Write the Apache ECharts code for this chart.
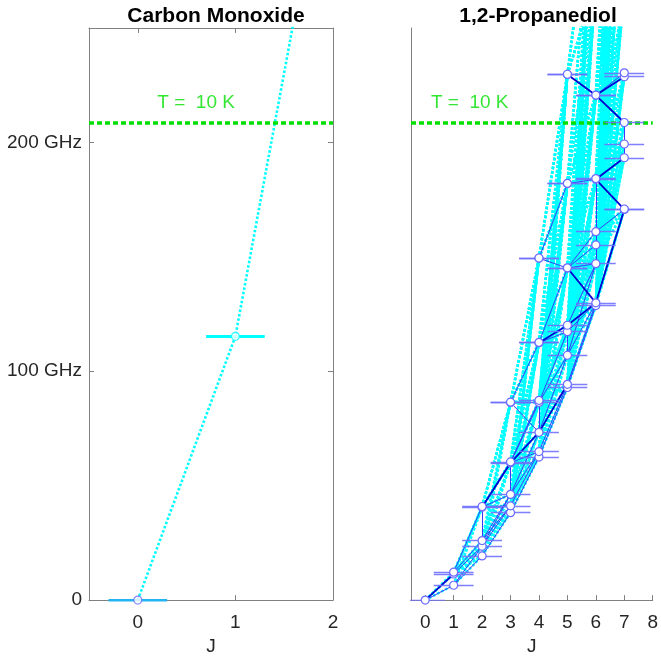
<!DOCTYPE html>
<html>
<head>
<meta charset="utf-8">
<script src="https://cdn.jsdelivr.net/npm/echarts@6/dist/echarts.min.js"></script>
<style>
  html, body { margin: 0; padding: 0; background: #fff; }
  #chart { width: 661px; height: 661px; }
</style>
</head>
<body>
<div id="chart"></div>
<script>
// Carbon monoxide: rotational levels (J, energy in GHz)
const coJ = [0, 1];
const coE = [0, 115.27];
// the ladder runs on to J=2, above the top of the axis
const coLadderJ = [0, 1, 2];
const coLadderE = [0, 115.27, 345.8];

// 1,2-propanediol levels
const pdJ = [0,
  1, 1, 1,
  2, 2, 2, 2, 2,
  3, 3, 3, 3, 3, 3, 3,
  4, 4, 4, 4, 4, 4, 4, 4, 4,
  5, 5, 5, 5, 5, 5, 5, 5, 5, 5, 5,
  6, 6, 6, 6, 6, 6, 6, 6, 6,
  7, 7, 7, 7, 7, 7, 7];
const pdE = [0,
  6.5, 11.4, 12.2,
  19.3, 23.5, 26.0, 40.6, 40.9,
  38.2, 41.2, 46.2, 60.0, 60.4, 86.4, 86.5,
  62.5, 64.9, 73.3, 86.4, 87.3, 112.5, 112.6, 149.4, 149.5,
  92.9, 94.3, 107.0, 117.3, 120.1, 145.1, 145.2, 182.0, 182.1, 229.7, 229.8,
  128.7, 129.9, 147.0, 155.2, 161.0, 183.9, 184.2, 220.6, 220.7,
  170.7, 170.9, 193.3, 199.3, 208.7, 228.7, 230.4];
// levels above 250 GHz that the dotted lines still run to (estimated)
const pdHighJ = [6, 6, 6, 6, 7, 7, 7, 7, 7, 7, 7, 7];
const pdHighE = [269.0, 269.5, 328.0, 328.5, 266.0, 266.5, 315.0, 315.5, 373.0, 373.5, 443.0, 443.5];
// solid blue transitions, index pairs into pdJ / pdE
const pdStrong = [
  [0, 1], [1, 4], [1, 5], [2, 5], [3, 6], [3, 8], [6, 7],
  [4, 9], [5, 10], [5, 11], [6, 10], [6, 11],
  [7, 10], [7, 11], [8, 13], [11, 12],
  [9, 16], [10, 17], [11, 17], [11, 18],
  [12, 17], [12, 19], [13, 20],
  [14, 19], [14, 18], [14, 21], [18, 19],
  [16, 25], [17, 26], [18, 27],
  [19, 27], [19, 28], [21, 28], [21, 30],
  [23, 30], [23, 32], [27, 29],
  [25, 36], [26, 37], [27, 37], [27, 38], [28, 37], [29, 38],
  [30, 38], [30, 39], [30, 40], [38, 40], [40, 41],
  [37, 46], [40, 45], [32, 41],
  [44, 51], [47, 48], [48, 49]
];
// the darker, heavier transitions
const pdBold = [
  [0, 2], [7, 12], [12, 18], [18, 26], [21, 29], [29, 37], [30, 37],
  [37, 45], [41, 45], [41, 47], [34, 43], [43, 50], [43, 49]
];

const tempGHz = 208.4; // kT/h at T = 10 K
const tempText = "T =  10 K";

const xTicksCO = [0, 1, 2];
const xTicksPD = [0, 1, 2, 3, 4, 5, 6, 7, 8];
const yTicks = [0, 100, 200];
const yTickText = ["0", "100 GHz", "200 GHz"];

const AXIS = "#808080";
const TEXT = "#262626";
const FONT = "Liberation Sans";
const CYAN = "#00ffff";
const EDGE = "#6a6aff";
const GREEN = "#00e000";

// dotted ladder: every level to every higher level one J up
const allJ = pdJ.concat(pdHighJ);
const allE = pdE.concat(pdHighE);
const cyanSegs = [];
for (let a = 0; a < allJ.length; a++) {
  for (let b = 0; b < allJ.length; b++) {
    if (allJ[b] === allJ[a] + 1 && allE[b] >= allE[a]) {
      cyanSegs.push({ coords: [[allJ[a], allE[a]], [allJ[b], allE[b]]] });
    }
  }
}
const seg = ([a, b]) => ({ coords: [[pdJ[a], pdE[a]], [pdJ[b], pdE[b]]] });
const blueSegs = pdStrong.map(seg);
const boldSegs = pdBold.map(seg);
const pdBars = pdJ.map((j, i) => ({ coords: [[j - 0.7, pdE[i]], [j + 0.7, pdE[i]]] }));
const coBars = coJ.map((j, i) => ({
  coords: [[j - 0.3, coE[i]], [j + 0.3, coE[i]]],
  lineStyle: { color: i === 0 ? "#22b4f2" : CYAN }
}));

const tickStyle = { color: AXIS, width: 1 };
const labelStyle = { color: TEXT, fontSize: 19, fontFamily: FONT };

function xAxisOf(grid, max, ticks, pos, labels) {
  return {
    type: "value", gridIndex: grid, min: -0.5, max: max, position: pos,
    axisLine: { show: true, onZero: false, lineStyle: tickStyle },
    axisTick: { show: true, inside: true, length: 5, customValues: ticks, lineStyle: tickStyle },
    axisLabel: labels ? Object.assign({ customValues: ticks, margin: 13 }, labelStyle) : { show: false },
    splitLine: { show: false },
    name: labels ? "J" : "", nameLocation: "middle", nameGap: 34,
    nameTextStyle: labelStyle
  };
}

const option = {
  animation: false,
  backgroundColor: "#fff",
  title: [
    { text: "Carbon Monoxide", left: 211, top: 1, textAlign: "center",
      textStyle: { fontSize: 21, fontWeight: "bold", color: "#000", fontFamily: FONT } },
    { text: "1,2-Propanediol", left: 533, top: 1, textAlign: "center",
      textStyle: { fontSize: 21, fontWeight: "bold", color: "#000", fontFamily: FONT } }
  ],
  grid: [
    { left: 89, top: 28, width: 244, height: 574 },
    { left: 411, top: 28, width: 244, height: 574 }
  ],
  xAxis: [
    xAxisOf(0, 2, xTicksCO, "bottom", true),
    xAxisOf(0, 2, xTicksCO, "top", false),
    xAxisOf(1, 8, xTicksPD, "bottom", true)
  ],
  yAxis: [
    { type: "value", gridIndex: 0, min: 0, max: 250, position: "left",
      axisLine: { show: true, onZero: false, lineStyle: tickStyle },
      axisTick: { show: true, inside: true, length: 5, customValues: yTicks, lineStyle: tickStyle },
      axisLabel: Object.assign({ customValues: yTicks, margin: 7,
        formatter: v => yTickText[yTicks.indexOf(v)] }, labelStyle),
      splitLine: { show: false } },
    { type: "value", gridIndex: 0, min: 0, max: 250, position: "right",
      axisLine: { show: true, onZero: false, lineStyle: tickStyle },
      axisTick: { show: true, inside: true, length: 5, customValues: yTicks, lineStyle: tickStyle },
      axisLabel: { show: false }, splitLine: { show: false } },
    { type: "value", gridIndex: 1, min: 0, max: 250, position: "left",
      axisLine: { show: true, onZero: false, lineStyle: tickStyle },
      axisTick: { show: false }, axisLabel: { show: false }, splitLine: { show: false } }
  ],
  series: [
    // carbon monoxide
    { type: "line", xAxisIndex: 0, yAxisIndex: 0, z: 1, clip: true, symbol: "none",
      data: coLadderJ.map((j, i) => [j, coLadderE[i]]),
      lineStyle: { color: CYAN, width: 2.6, type: [2.5, 2] } },
    { type: "lines", coordinateSystem: "cartesian2d", xAxisIndex: 0, yAxisIndex: 0, z: 3,
      data: coBars, lineStyle: { width: 3, opacity: 1 } },
    { type: "scatter", xAxisIndex: 0, yAxisIndex: 0, z: 6, clip: false,
      symbol: "circle", symbolSize: 8,
      data: coJ.map((j, i) => ({ value: [j, coE[i]],
        itemStyle: { color: "#fff", borderColor: i === 0 ? EDGE : CYAN, borderWidth: 1.2 } })),
      markLine: { silent: true, symbol: "none", label: { show: false },
        lineStyle: { color: GREEN, width: 3.5, type: [5, 3] },
        data: [{ yAxis: tempGHz }] } },
    { type: "scatter", xAxisIndex: 0, yAxisIndex: 0, z: 6, clip: false, symbolSize: 0,
      data: [[0.2, 217.5]],
      label: { show: true, position: "right", distance: 0, formatter: tempText,
        color: GREEN, fontSize: 19, fontFamily: FONT } },

    // 1,2-propanediol
    { type: "lines", coordinateSystem: "cartesian2d", xAxisIndex: 2, yAxisIndex: 2, z: 1, clip: true,
      data: cyanSegs, lineStyle: { color: CYAN, width: 2.5, type: [2.5, 2], opacity: 1 } },
    { type: "lines", coordinateSystem: "cartesian2d", xAxisIndex: 2, yAxisIndex: 2, z: 4, clip: true,
      data: blueSegs, lineStyle: { color: "#3a3aff", width: 1, opacity: 1 } },
    { type: "lines", coordinateSystem: "cartesian2d", xAxisIndex: 2, yAxisIndex: 2, z: 4, clip: true,
      data: boldSegs, lineStyle: { color: "#0000d0", width: 1.8, opacity: 1 } },
    { type: "lines", coordinateSystem: "cartesian2d", xAxisIndex: 2, yAxisIndex: 2, z: 5, clip: true,
      data: pdBars, lineStyle: { color: "#7070ff", width: 1.4, opacity: 0.9 } },
    { type: "scatter", xAxisIndex: 2, yAxisIndex: 2, z: 6, clip: false,
      symbol: "circle", symbolSize: 8,
      data: pdJ.map((j, i) => [j, pdE[i]]),
      itemStyle: { color: "#fff", borderColor: EDGE, borderWidth: 1.2, opacity: 1 },
      markLine: { silent: true, symbol: "none", label: { show: false },
        lineStyle: { color: GREEN, width: 3.5, type: [5, 3] },
        data: [{ yAxis: tempGHz }] } },
    { type: "scatter", xAxisIndex: 2, yAxisIndex: 2, z: 6, clip: false, symbolSize: 0,
      data: [[0.2, 217.5]],
      label: { show: true, position: "right", distance: 0, formatter: tempText,
        color: GREEN, fontSize: 19, fontFamily: FONT } }
  ]
};

const chart = echarts.init(document.getElementById("chart"), null, { renderer: "canvas" });
chart.setOption(option);
</script>
</body>
</html>
